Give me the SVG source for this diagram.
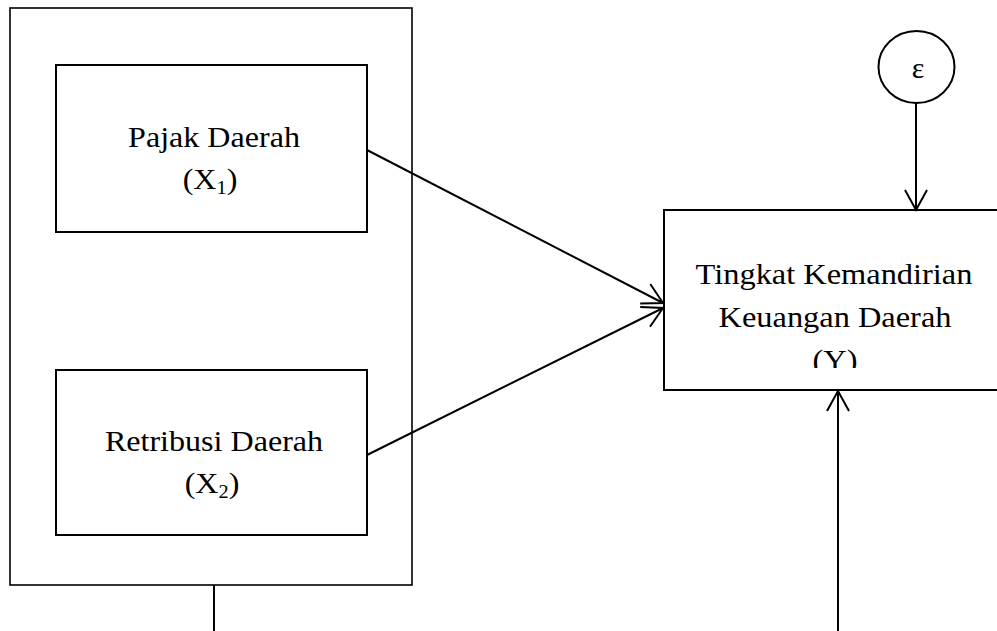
<svg xmlns="http://www.w3.org/2000/svg" width="997" height="631" viewBox="0 0 997 631">
<style>
.box{fill:#fff;stroke:#000;stroke-width:2}
.ln{fill:none;stroke:#000;stroke-width:2}
.t{font-family:"Liberation Serif","Times New Roman",serif;fill:#000;text-anchor:middle;font-size:30px}
</style>
<defs>
<marker id="arr" markerUnits="userSpaceOnUse" markerWidth="30" markerHeight="30" viewBox="-22 -15 30 30" refX="0" refY="0" orient="auto" overflow="visible">
<path d="M-20,-11 L0,0 L-20,11" fill="none" stroke="#000" stroke-width="2"/>
</marker>
<clipPath id="yclip"><rect x="664" y="210" width="340" height="158"/></clipPath>
</defs>
<rect width="997" height="631" fill="#fff"/>
<g id="outer">
<rect class="box" x="10" y="8" width="402" height="577" style="stroke-width:1.6"/>
</g>
<g id="x1">
<rect class="box" x="56" y="65" width="311" height="167"/>
<text class="t" transform="translate(214,147) scale(1.07,1)">Pajak Daerah</text>
<text class="t" transform="translate(210,189) scale(1.07,1)">(X<tspan font-size="19" dy="5">1</tspan><tspan dy="-5">)</tspan></text>
</g>
<g id="x2">
<rect class="box" x="56" y="370" width="311" height="165"/>
<text class="t" transform="translate(214,451) scale(1.07,1)">Retribusi Daerah</text>
<text class="t" transform="translate(212,493) scale(1.07,1)">(X<tspan font-size="19" dy="5">2</tspan><tspan dy="-5">)</tspan></text>
</g>
<g id="y">
<rect class="box" x="664" y="210" width="345" height="180"/>
<g clip-path="url(#yclip)">
<text class="t" transform="translate(834,284) scale(1.08,1)">Tingkat Kemandirian</text>
<text class="t" transform="translate(835,327) scale(1.08,1)">Keuangan Daerah</text>
<text class="t" transform="translate(835,370) scale(1.08,1)">(Y)</text>
</g>
</g>
<g id="epsilon">
<ellipse cx="916.5" cy="67" rx="38" ry="36" class="ln"/>
<text class="t" style="font-size:30px" x="918" y="78">ε</text>
</g>
<g id="connectors">
<line class="ln" x1="367" y1="150" x2="663" y2="303" marker-end="url(#arr)"/>
<line class="ln" x1="367" y1="455" x2="663" y2="308" marker-end="url(#arr)"/>
<line class="ln" x1="916" y1="103" x2="916" y2="210" marker-end="url(#arr)"/>
<line class="ln" x1="838" y1="631" x2="838" y2="391" marker-end="url(#arr)"/>
<line class="ln" x1="214" y1="585" x2="214" y2="631"/>
</g>
</svg>
